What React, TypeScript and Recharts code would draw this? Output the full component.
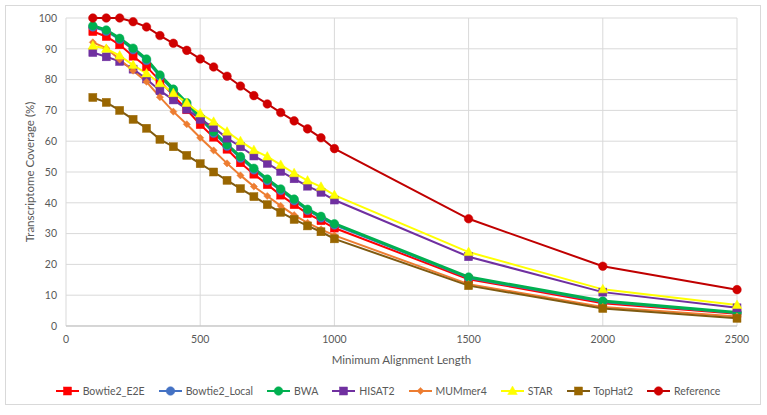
import React from 'react';
import { LineChart, Line, XAxis, YAxis, CartesianGrid } from 'recharts';

const xValues = [100, 150, 200, 250, 300, 350, 400, 450, 500, 550, 600, 650, 700, 750, 800, 850, 900, 950, 1000, 1500, 2000, 2500];
const xTicks = [0, 500, 1000, 1500, 2000, 2500];
const yTicks = [0, 10, 20, 30, 40, 50, 60, 70, 80, 90, 100];

const bowtie2E2E = [95.6, 94, 91.3, 87.6, 84.2, 79.6, 74.8, 70.2, 65.4, 61.3, 57.4, 53, 49.3, 45.9, 42.5, 39.4, 36.5, 34.2, 31.8, 15.2, 7.4, 4];
const bowtie2Local = [97.1, 95.7, 93, 89.7, 86.2, 81, 76.4, 72, 67.3, 62.6, 58.4, 54.5, 50.7, 47.2, 44, 40.7, 37.5, 35.1, 32.8, 15.6, 7.8, 4.2];
const bwa = [97.5, 96.1, 93.4, 90.2, 86.7, 81.5, 76.9, 72.5, 67.8, 63.1, 58.9, 55, 51.2, 47.7, 44.5, 41.2, 37.9, 35.6, 33.2, 15.9, 8.1, 4.4];
const hisat2 = [88.8, 87.4, 85.9, 83.4, 80.2, 76.4, 73.4, 70.4, 67.1, 64.4, 61, 58.2, 55.2, 52.8, 50.2, 47.8, 45.4, 43.4, 40.9, 22.5, 11, 5.9];
const mummer4 = [92.1, 90.2, 86.5, 82.9, 79.3, 74.3, 69.6, 65.5, 61.1, 57, 52.8, 48.9, 45.3, 42.2, 39, 36, 33.5, 31.4, 29.4, 13.6, 6.2, 3.1];
const star = [91, 90, 87.8, 84.7, 82, 78.8, 75.6, 72.4, 69, 66.3, 63.1, 60, 57.1, 55, 52.3, 49.6, 47.2, 45.2, 42.5, 24, 11.9, 6.8];
const tophat2 = [74.2, 72.6, 70, 67.1, 64.2, 60.6, 58.2, 55.4, 52.7, 50, 47.3, 44.6, 42, 39.4, 36.9, 34.6, 32.5, 30.6, 28.3, 13.1, 5.7, 2.5];
const reference = [100, 100, 100, 98.8, 97.1, 94.3, 91.8, 89.5, 86.7, 84.1, 81.1, 77.9, 74.8, 72.1, 69.3, 66.6, 64, 61.1, 57.6, 34.8, 19.4, 11.8];

type Shape = 'square' | 'circle' | 'diamond' | 'triangle';
type SeriesDef = { key: string; name: string; values: number[]; line: string; fill: string; shape: Shape; width: number };

const series: SeriesDef[] = [
  { key: 'e2e', name: 'Bowtie2_E2E', values: bowtie2E2E, line: '#FF0000', fill: '#FF0000', shape: 'square', width: 2 },
  { key: 'local', name: 'Bowtie2_Local', values: bowtie2Local, line: '#4472C4', fill: '#4472C4', shape: 'circle', width: 2 },
  { key: 'bwa', name: 'BWA', values: bwa, line: '#00B050', fill: '#00B050', shape: 'circle', width: 3 },
  { key: 'hisat2', name: 'HISAT2', values: hisat2, line: '#7030A0', fill: '#7030A0', shape: 'square', width: 2 },
  { key: 'mummer4', name: 'MUMmer4', values: mummer4, line: '#ED7D31', fill: '#ED7D31', shape: 'diamond', width: 2 },
  { key: 'star', name: 'STAR', values: star, line: '#FFFF00', fill: '#FFFF00', shape: 'triangle', width: 2 },
  { key: 'tophat2', name: 'TopHat2', values: tophat2, line: '#7F5A10', fill: '#996600', shape: 'square', width: 2 },
  { key: 'reference', name: 'Reference', values: reference, line: '#C00000', fill: '#D00000', shape: 'circle', width: 2 },
];

const data = xValues.map((x, i) => {
  const row: Record<string, number> = { x };
  series.forEach((s) => {
    row[s.key] = s.values[i];
  });
  return row;
});

function marker(shape: Shape, fill: string, cx: number, cy: number, key?: React.Key) {
  if (shape === 'square') {
    return <rect key={key} x={cx - 4} y={cy - 4} width={8} height={8} fill={fill} stroke={fill} strokeWidth={0.5} />;
  }
  if (shape === 'circle') {
    return <circle key={key} cx={cx} cy={cy} r={4.3} fill={fill} stroke={fill} strokeWidth={0.5} />;
  }
  if (shape === 'diamond') {
    return (
      <polygon key={key} points={`${cx},${cy - 3.6} ${cx + 3.6},${cy} ${cx},${cy + 3.6} ${cx - 3.6},${cy}`} fill={fill} stroke={fill} strokeWidth={0.5} />
    );
  }
  return (
    <polygon key={key} points={`${cx},${cy - 5} ${cx + 4.8},${cy + 3.5} ${cx - 4.8},${cy + 3.5}`} fill={fill} stroke={fill} strokeWidth={0.5} />
  );
}

const makeDot = (s: SeriesDef) => (props: any) => {
  const { cx, cy, index } = props;
  if (cx == null || cy == null) return <g key={index} />;
  return marker(s.shape, s.fill, cx, cy, `${s.key}-${index}`);
};

const FONT = 'Lato, "Open Sans", sans-serif';
const TEXT = '#595959';

function LegendBox() {
  return (
    <div
      style={{
        position: 'absolute',
        left: 0,
        width: 776,
        top: 383,
        display: 'flex',
        justifyContent: 'center',
        gap: 14,
        fontFamily: FONT,
        fontSize: 10.5,
        color: TEXT,
        lineHeight: '16px',
      }}
    >
      {series.map((s) => (
        <div key={s.key} style={{ display: 'flex', alignItems: 'center' }}>
          <svg width={23} height={12} style={{ marginRight: 4 }}>
            <line x1={0} y1={6} x2={23} y2={6} stroke={s.line} strokeWidth={2} />
            {marker(s.shape, s.fill, 11.5, 6)}
          </svg>
          <span>{s.name}</span>
        </div>
      ))}
    </div>
  );
}

export default function App() {
  return (
    <div style={{ position: 'absolute', left: 0, top: 0, width: 767, height: 415, background: '#fff' }}>
      <div
        style={{
          position: 'absolute',
          left: 5,
          top: 5,
          width: 756,
          height: 400,
          border: '1px solid #D9D9D9',
          boxSizing: 'border-box',
        }}
      />
      <div style={{ position: 'absolute', left: 0, top: 0 }}>
        <LineChart width={767} height={415} data={data} margin={{ top: 18, right: 30, bottom: 0, left: 0 }}>
          <CartesianGrid stroke="#D9D9D9" strokeWidth={1} vertical horizontal />
          <XAxis
            dataKey="x"
            type="number"
            domain={[0, 2500]}
            ticks={xTicks}
            height={89}
            tickLine={false}
            tickSize={0}
            tickMargin={10}
            stroke="#BFBFBF"
            tick={{ fill: TEXT, fontSize: 10.5, fontFamily: FONT }}
            label={{ value: 'Minimum Alignment Length', position: 'insideBottom', offset: 51, fill: TEXT, fontSize: 11.5, fontFamily: FONT }}
          />
          <YAxis
            type="number"
            domain={[0, 100]}
            ticks={yTicks}
            width={66}
            axisLine={false}
            tickLine={false}
            tickSize={0}
            tickMargin={9}
            tick={{ fill: TEXT, fontSize: 10.5, fontFamily: FONT }}
            label={{
              value: 'Transcriptome Coverage (%)',
              angle: -90,
              position: 'insideLeft',
              offset: 30,
              fill: TEXT,
              fontSize: 11.5,
              fontFamily: FONT,
              style: { textAnchor: 'middle' },
            }}
          />
          {series.map((s) => (
            <Line
              key={s.key}
              type="linear"
              dataKey={s.key}
              name={s.name}
              stroke={s.line}
              strokeWidth={s.width}
              dot={makeDot(s)}
              activeDot={false}
              isAnimationActive={false}
            />
          ))}
        </LineChart>
      </div>
      <LegendBox />
    </div>
  );
}
